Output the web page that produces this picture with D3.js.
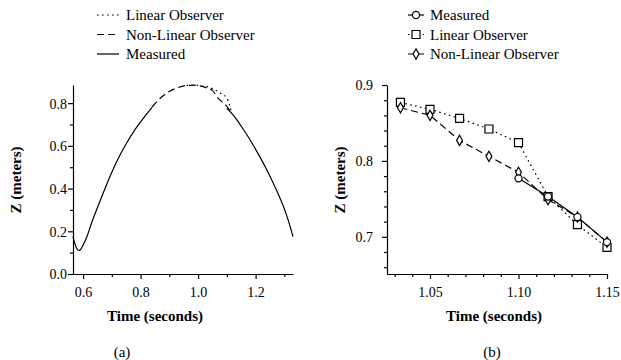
<!DOCTYPE html>
<html lang="en">

<head>
  <meta charset="UTF-8">
  <title>Observer comparison - Z vs Time</title>
  <script src="https://d3js.org/d3.v7.min.js"></script>
  <style>
    body { margin: 0; background: #fff; }
  </style>
</head>

<body>
  <div id="chart"></div>

  <script>
    // panel (a): full trajectory
    const measuredA1_t = [0.565, 0.572, 0.580, 0.586, 0.593, 0.600, 0.612, 0.630, 0.660, 0.690, 0.720, 0.750, 0.780, 0.810, 0.840];
    const measuredA1_z = [0.175, 0.140, 0.115, 0.110, 0.118, 0.135, 0.170, 0.240, 0.345, 0.445, 0.535, 0.610, 0.675, 0.730, 0.780];
    const measuredA2_t = [1.100, 1.117, 1.133, 1.150, 1.180, 1.210, 1.240, 1.270, 1.300, 1.315, 1.330];
    const measuredA2_z = [0.776, 0.752, 0.725, 0.692, 0.630, 0.560, 0.485, 0.400, 0.305, 0.245, 0.175];
    const nonlinA_t = [0.840, 0.870, 0.900, 0.930, 0.960, 0.990, 1.020, 1.033, 1.050, 1.067, 1.083, 1.100, 1.117];
    const nonlinA_z = [0.782, 0.825, 0.855, 0.873, 0.883, 0.884, 0.876, 0.870, 0.860, 0.827, 0.806, 0.785, 0.750];
    const linA_t = [0.960, 0.990, 1.020, 1.033, 1.050, 1.067, 1.083, 1.100, 1.117];
    const linA_z = [0.883, 0.884, 0.879, 0.877, 0.868, 0.856, 0.842, 0.824, 0.753];

    // panel (b): zoom on the re-acquisition
    const measuredB_t = [1.1000, 1.1167, 1.1333, 1.1500];
    const measuredB_z = [0.777, 0.753, 0.726, 0.693];
    const linB_t = [1.0333, 1.0500, 1.0667, 1.0833, 1.1000, 1.1167, 1.1333, 1.1500];
    const linB_z = [0.877, 0.868, 0.856, 0.842, 0.824, 0.753, 0.716, 0.686];
    const nonlinB_t = [1.0333, 1.0500, 1.0667, 1.0833, 1.1000, 1.1167, 1.1333, 1.1500];
    const nonlinB_z = [0.870, 0.860, 0.827, 0.806, 0.785, 0.749, 0.726, 0.693];

    const ticksA_x = [0.6, 0.8, 1.0, 1.2];
    const minorA_x = [0.7, 0.9, 1.1, 1.3];
    const ticksA_y = [0.0, 0.2, 0.4, 0.6, 0.8];
    const minorA_y = [0.1, 0.3, 0.5, 0.7];
    const ticksB_x = [1.05, 1.10, 1.15];
    const minorB_x = [1.03, 1.04, 1.06, 1.07, 1.08, 1.09, 1.11, 1.12, 1.13, 1.14];
    const ticksB_y = [0.7, 0.8, 0.9];
    const minorB_y = [0.66, 0.68, 0.72, 0.74, 0.76, 0.78, 0.82, 0.84, 0.86, 0.88];

    const legendA = ["Linear Observer", "Non-Linear Observer", "Measured"];
    const legendB = ["Measured", "Linear Observer", "Non-Linear Observer"];

    const FONT = "'Liberation Serif', 'Times New Roman', Times, serif";
    const W = 621, H = 360;
    const svg = d3.select("#chart").append("svg")
      .attr("width", W).attr("height", H)
      .attr("font-family", FONT)
      .style("font-family", FONT);

    const zip = (t, z) => t.map((d, i) => ({ t: d, z: z[i] }));

    const dashes = {
      "Measured": null,
      "Linear Observer": "1.6,3.4",
      "Non-Linear Observer": "7,4"
    };

    // axis with major + minor ticks, styled inline
    function styleAxis(sel) {
      sel.attr("font-family", FONT).attr("font-size", 14);
      sel.selectAll("path, line").attr("stroke", "#000").attr("stroke-width", 1.2);
      sel.selectAll("text").attr("fill", "#000").style("font-family", FONT).style("font-size", "14px");
    }

    function drawAxes(g, x, y, o) {
      const xa = g.append("g")
        .attr("transform", `translate(0,${o.bottom})`)
        .call(d3.axisBottom(x).tickValues(o.tx).tickSizeInner(5).tickSizeOuter(0)
          .tickPadding(3).tickFormat(d3.format(o.fx)));
      const xm = g.append("g")
        .attr("transform", `translate(0,${o.bottom})`)
        .call(d3.axisBottom(x).tickValues(o.mx).tickSize(3).tickFormat(""));
      xm.select(".domain").remove();
      const ya = g.append("g")
        .attr("transform", `translate(${o.left},0)`)
        .call(d3.axisLeft(y).tickValues(o.ty).tickSizeInner(5).tickSizeOuter(0)
          .tickPadding(o.padY).tickFormat(d3.format(o.fy)));
      const ym = g.append("g")
        .attr("transform", `translate(${o.left},0)`)
        .call(d3.axisLeft(y).tickValues(o.my).tickSize(3).tickFormat(""));
      ym.select(".domain").remove();
      [xa, xm, ya, ym].forEach(styleAxis);
      xa.selectAll("text").attr("dy", "1.05em");
      ya.selectAll("text").attr("dy", "0.35em");
    }

    function titles(cx, xTitleX, yTitleX, cy, label) {
      svg.append("text")
        .attr("x", xTitleX).attr("y", 321)
        .attr("text-anchor", "middle")
        .style("font-family", FONT)
        .style("font-size", "15px").style("font-weight", "bold")
        .text("Time (seconds)");
      svg.append("text")
        .attr("transform", `translate(${yTitleX},${cy}) rotate(-90)`)
        .attr("text-anchor", "middle")
        .style("font-family", FONT)
        .style("font-size", "15px").style("font-weight", "bold")
        .text("Z (meters)");
      svg.append("text")
        .attr("x", cx).attr("y", 357)
        .attr("text-anchor", "middle")
        .style("font-family", FONT)
        .style("font-size", "15px")
        .text(label);
    }

    // ---------- panel (a) ----------
    const xA = d3.scaleLinear().domain([0.565, 1.33]).range([73, 293]);
    const yA = d3.scaleLinear().domain([0, 0.885]).range([274, 85]);
    const gA = svg.append("g");

    drawAxes(gA, xA, yA, {
      bottom: 274, left: 73, tx: ticksA_x, mx: minorA_x, ty: ticksA_y, my: minorA_y,
      fx: ".1f", fy: ".1f", padY: 1
    });

    const lineA = d3.line().x(d => xA(d.t)).y(d => yA(d.z)).curve(d3.curveMonotoneX);
    const seriesA = [
      { name: "Measured", data: zip(measuredA1_t, measuredA1_z) },
      { name: "Measured", data: zip(measuredA2_t, measuredA2_z) },
      { name: "Non-Linear Observer", data: zip(nonlinA_t, nonlinA_z) },
      { name: "Linear Observer", data: zip(linA_t, linA_z) }
    ];
    gA.selectAll("path.series")
      .data(seriesA)
      .enter().append("path")
      .attr("class", "series")
      .attr("fill", "none")
      .attr("stroke", "#000")
      .attr("stroke-width", 1.2)
      .attr("stroke-dasharray", d => dashes[d.name])
      .attr("d", d => lineA(d.data));

    // legend (a)
    const rowGap = 19.5;
    const legA = svg.append("g").attr("transform", "translate(97,15)");
    legA.selectAll("line")
      .data(legendA).enter().append("line")
      .attr("x1", 0).attr("x2", 22)
      .attr("y1", (d, i) => i * rowGap).attr("y2", (d, i) => i * rowGap)
      .attr("stroke", "#000").attr("stroke-width", 1.2)
      .attr("stroke-dasharray", d => dashes[d]);
    legA.selectAll("text")
      .data(legendA).enter().append("text")
      .attr("x", 29).attr("y", (d, i) => i * rowGap)
      .attr("dy", "0.35em")
      .style("font-family", FONT)
      .style("font-size", "15px")
      .text(d => d);

    titles(122, 155, 21, 180, "(a)");

    // ---------- panel (b) ----------
    const xB = d3.scaleLinear().domain([1.0257, 1.15]).range([387, 607]);
    const yB = d3.scaleLinear().domain([0.651, 0.9]).range([274, 85]);
    const gB = svg.append("g");

    drawAxes(gB, xB, yB, {
      bottom: 274, left: 387, tx: ticksB_x, mx: minorB_x, ty: ticksB_y, my: minorB_y,
      fx: ".2f", fy: ".1f", padY: 9
    });

    const lineB = d3.line().x(d => xB(d.t)).y(d => yB(d.z));
    const seriesB = [
      { name: "Linear Observer", data: zip(linB_t, linB_z), marker: "square" },
      { name: "Non-Linear Observer", data: zip(nonlinB_t, nonlinB_z), marker: "diamond" },
      { name: "Measured", data: zip(measuredB_t, measuredB_z), marker: "circle" }
    ];
    const symbols = {
      square: d3.symbol().type(d3.symbolSquare).size(64),
      diamond: d3.symbol().type(d3.symbolDiamond).size(30),
      circle: d3.symbol().type(d3.symbolCircle).size(40)
    };

    gB.selectAll("path.series")
      .data(seriesB)
      .enter().append("path")
      .attr("class", "series")
      .attr("fill", "none")
      .attr("stroke", "#000")
      .attr("stroke-width", 1.2)
      .attr("stroke-dasharray", d => dashes[d.name])
      .attr("d", d => lineB(d.data));

    seriesB.forEach(s => {
      gB.selectAll(null)
        .data(s.data)
        .enter().append("path")
        .attr("transform", d => `translate(${xB(d.t)},${yB(d.z)})`)
        .attr("d", symbols[s.marker]())
        .attr("fill", "#fff")
        .attr("stroke", "#000")
        .attr("stroke-width", 1.2);
    });

    // legend (b)
    const legBMarkers = { "Measured": "circle", "Linear Observer": "square", "Non-Linear Observer": "diamond" };
    const legB = svg.append("g").attr("transform", "translate(408,15)");
    legB.selectAll("line")
      .data(legendB).enter().append("line")
      .attr("x1", 0).attr("x2", 16)
      .attr("y1", (d, i) => i * rowGap).attr("y2", (d, i) => i * rowGap)
      .attr("stroke", "#000").attr("stroke-width", 1.2)
      .attr("stroke-dasharray", d => dashes[d]);
    legB.selectAll("path")
      .data(legendB).enter().append("path")
      .attr("transform", (d, i) => `translate(8,${i * rowGap})`)
      .attr("d", d => symbols[legBMarkers[d]]())
      .attr("fill", "#fff").attr("stroke", "#000").attr("stroke-width", 1.2);
    legB.selectAll("text")
      .data(legendB).enter().append("text")
      .attr("x", 22).attr("y", (d, i) => i * rowGap)
      .attr("dy", "0.35em")
      .style("font-family", FONT)
      .style("font-size", "15px")
      .text(d => d);

    titles(492, 494, 345, 180, "(b)");
  </script>
</body>

</html>
